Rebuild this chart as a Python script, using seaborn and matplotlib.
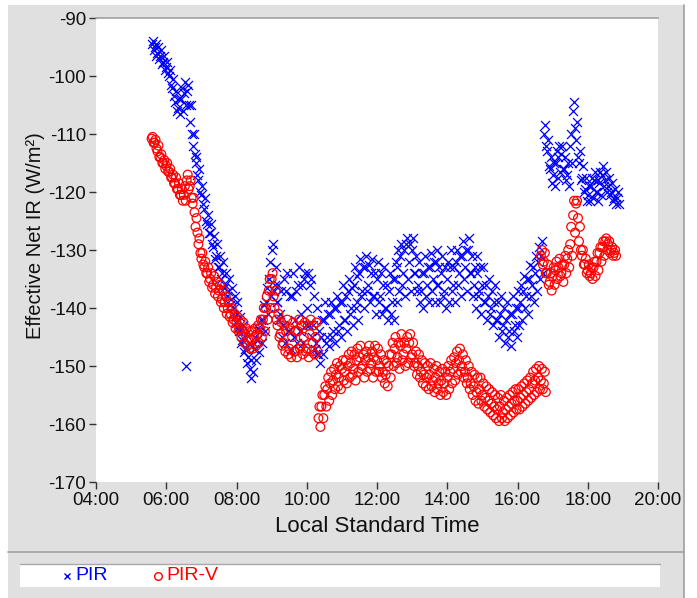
import numpy as np
import pandas as pd
import matplotlib
matplotlib.use("Agg")
import matplotlib.pyplot as plt
from matplotlib.patches import Rectangle
from matplotlib.lines import Line2D
from matplotlib.ticker import FuncFormatter
import seaborn as sns

# ---------------- data ----------------
# Each series is given at 5-minute slots as three readings of the scatter band:
# a middle reading, the upper edge and the lower edge of the cloud of markers.

# PIR (blue x), slots start at 05:35
pir_start = "05:35"
pir_mid = [
    -94.5, -95, -96, -96.5, -97.5,
    -98.5, -100, -102, -104.5, -105.5, -104, -103, -102.5, -108, -112, -115, -118,
    -120.5, -123, -125.5, -127, -129.5, -131, -133, -134, -136, -137, -138.5, -140,
    -141, -144, -145.5, -147, -148.5, -149, -147, -145.5, -144, -142, -139, -135,
    -130, -136, -139, -141, -143, -137, -144, -138, -142, -136, -141, -135,
    -140, -136, -143, -146, -148, -145, -142, -145, -141, -144, -140, -143,
    -139, -142, -137, -140, -136, -139, -134, -137, -133, -136, -134, -138,
    -135, -138, -136, -140, -137, -139, -135, -133, -131, -134, -129, -132,
    -130, -134, -136, -137, -134, -136, -133, -135, -132, -136, -134, -137,
    -135, -133, -136, -132, -134, -131, -133, -130, -134, -136, -134, -137,
    -136, -139, -138, -140, -139, -142, -141, -143, -142, -144, -141, -143,
    -140, -139, -137, -138, -135, -136, -134, -132, -131, -110, -113, -116,
    -117, -115, -114, -113.5, -116, -117, -112, -106, -111, -115, -117.5, -119.5,
    -120.5, -119, -118, -120, -118.5, -117, -118, -119, -120, -121, -121,
]
pir_upper = [
    -94, -94.5, -95, -95.5, -96.5,
    -97.5, -99, -100.5, -102.5, -104, -102, -101, -101.5, -105, -110, -114, -116,
    -119, -121, -124, -125.5, -127.5, -129, -131, -132, -134, -135, -136.5, -138,
    -139, -141.5, -143, -144.5, -146, -146.5, -145, -143.5, -142, -139.5, -136.5, -132,
    -129, -133, -136, -137, -135, -134, -138, -134, -137, -133, -136, -134,
    -134, -135, -138, -140, -144, -142, -139, -141, -139, -140, -138, -139,
    -136, -138, -135, -136.5, -133, -134.5, -131.5, -133, -131, -132.5, -131.5, -134,
    -132, -134, -133, -136, -134, -135, -132, -130, -129, -130, -128, -129,
    -128, -131, -132, -134, -131, -133, -130.5, -132, -130, -133, -131, -133,
    -132, -130, -133, -130, -131, -128.5, -130, -128, -131, -133, -131, -133,
    -133, -136, -135, -137, -136, -139, -138, -140, -139, -141, -138, -140,
    -137, -136, -134.5, -135, -132.5, -133, -131, -129.5, -128.5, -108.5, -111, -114,
    -115, -113, -112, -112, -114, -115, -110, -104.5, -108, -113, -115.5, -117.5,
    -119, -117.5, -116.5, -118, -116.5, -115.5, -116.5, -117.5, -118.5, -119.5, -120,
]
pir_lower = [
    -95.5, -96.5, -97, -98, -99,
    -99.5, -101.5, -103.5, -106, -106.5, -106, -105, -105, -110, -113.5, -117, -120,
    -122, -125, -127, -129, -131.5, -133, -135, -136.5, -138, -139.5, -141, -142.5,
    -143.5, -146, -147.5, -149.5, -150.5, -151, -149, -147.5, -146, -144, -141, -138,
    -137, -139, -142, -145, -146, -144, -147, -145, -146, -144, -146, -143,
    -143, -145, -147, -148, -149.5, -148, -146, -146.5, -145, -146, -144, -145,
    -142, -144, -141, -143, -140, -142, -138, -140, -137, -139, -138, -141,
    -139, -141, -140, -142, -141, -142, -139, -137, -136, -138, -135, -137,
    -134, -137, -139, -140, -138, -139, -137, -139, -136, -139, -138, -140,
    -139, -137, -139, -136, -138, -135, -137, -134, -138, -140, -138, -141,
    -139, -142, -141, -143, -142, -145, -144, -146, -145, -146.5, -144, -145,
    -143, -142, -140, -141, -138, -139, -137, -135, -134, -112, -115.5, -118.5,
    -119, -117.5, -116.5, -116, -118, -119, -115, -109, -114, -118, -120, -121.5,
    -121.5, -121, -120, -121.5, -120.5, -119, -120, -120.5, -121.5, -122, -122,
]
pir_outlier_times = ["06:33", "08:25"]
pir_outlier_values = [-150, -152]

# PIR-V (red o), first segment slots start at 05:35
pirv_start = "05:35"
pirv_mid = [
    -110.8, -111.5, -113, -114, -115,
    -115.5, -116.5, -117.5, -118.5, -119.5, -120.5, -120.5, -118, -119, -122, -126, -129,
    -131.5, -133, -134, -135, -136, -136.5, -137, -138.5, -139, -140, -141, -142,
    -142.5, -143.5, -144, -144.5, -145.5, -145.5, -145, -144.5, -143.5, -142, -140, -137,
    -135, -140, -143, -144.5, -146, -144, -147, -145, -147.5, -144, -146.5, -145,
    -147, -144.5, -146, -145, -159, -157, -155, -154, -153, -152.5, -151.5, -152,
    -150.5, -151, -150, -149.5, -150.5, -149, -148.5, -150, -149, -148.5, -149.5, -148.5,
    -149, -150, -151, -151.5, -150, -148, -147, -148.5, -146.5, -148, -147, -146,
    -148, -149.5, -150, -151, -151.5, -152, -151.5, -152.5, -152, -153, -152.5, -153,
    -152, -151, -150.5, -149.5, -149, -150, -151, -152, -153, -153.5, -154.5, -154,
    -155, -155.5, -156, -156.5, -157, -157.5, -157, -158, -157.5, -157, -156.5, -156,
    -156, -155.5, -155, -154.5, -154, -153, -152.5, -152, -152.5, -153,
]
pirv_upper = [
    -110.5, -111, -112, -113.5, -114.5,
    -115, -116, -117, -117.5, -118.5, -119.5, -119, -117, -118, -121, -124.5, -128,
    -130.5, -132, -133, -134, -134.5, -135.5, -136, -137, -138, -139, -140, -141,
    -141.5, -142, -142.5, -143.5, -144, -144, -143.5, -143, -142, -140, -138, -135,
    -134, -137, -141, -142.5, -143, -142, -143.5, -142.5, -144, -142, -143, -142.5,
    -143, -142, -143, -142.5, -157, -155, -153.5, -152, -151, -150.5, -149.5, -150,
    -149, -149, -148, -147.5, -148, -147, -146.5, -148, -147.5, -146.5, -147.5, -146.5,
    -147, -148, -149, -149.5, -148, -146, -145, -146, -144.5, -146, -145, -144.5,
    -146, -147.5, -148, -149, -149.5, -150, -149.5, -150.5, -150, -151, -150.5, -151,
    -150, -149, -148.5, -147.5, -147, -148, -149, -150, -151, -151.5, -152, -152,
    -153, -153.5, -154, -154.5, -155, -155.5, -155, -156, -155.5, -155, -154.5, -154,
    -154, -153.5, -153, -152.5, -152, -151, -150.5, -150, -150.5, -151,
]
pirv_lower = [
    -111.5, -112.5, -114, -115, -116,
    -116.5, -117.5, -118.5, -119.5, -120.5, -121.5, -121.5, -119.5, -121, -123.5, -127, -130.5,
    -132.5, -134, -135.5, -136.5, -137.5, -138, -139, -140, -141, -141.5, -142.5, -143.5,
    -144, -145, -146, -146.5, -147, -147, -146.5, -146, -145, -144, -142, -140,
    -138, -142, -145, -146.5, -147.5, -148, -148.5, -147.5, -148.5, -147, -148, -147.5,
    -148.5, -147.5, -148, -147.5, -160.5, -159, -157, -156, -155, -154, -153.5, -154,
    -152.5, -153, -152, -151.5, -152.5, -151, -150.5, -152, -151, -150.5, -152, -151,
    -151, -152, -153, -153.5, -152, -150, -149.5, -150.5, -149, -150, -149.5, -148.5,
    -150, -151.5, -152, -153, -153.5, -154, -153.5, -154.5, -154, -155, -154.5, -155,
    -154, -153, -152.5, -151.5, -151, -152, -153, -154, -155, -156, -156.5, -156,
    -157, -157.5, -158, -158.5, -159, -159.5, -159, -159.5, -159, -158.5, -158, -157.5,
    -157.5, -157, -156.5, -156, -155.5, -155, -154.5, -154, -154, -154.5,
]
# PIR-V evening segment, slots start at 16:40
pirv2_start = "16:40"
pirv2_mid = [
    -131, -132, -134, -135.5, -134.5, -133.5, -133, -134, -132.5, -131.5, -129, -124,
    -122, -128.5, -131, -132.5, -133.5, -134, -133, -132, -130.5, -129.5, -128.5, -129,
    -130, -130.5,
]
pirv2_upper = [
    -130, -130.5, -132.5, -134, -133, -132, -131.5, -132.5, -131, -130, -126, -121.5,
    -121.5, -126, -130, -131.5, -132.5, -133, -132, -130.5, -129.5, -128.5, -128, -128.5,
    -129.5, -130,
]
pirv2_lower = [
    -132.5, -134, -136, -137, -136, -135, -134.5, -135.5, -134, -133, -131, -127,
    -124.5, -130, -132.5, -134, -134.5, -135, -134.5, -133.5, -132, -131, -130, -130.5,
    -131, -131,
]

series_names = ["PIR", "PIR-V"]
series_colors = ["#0000ff", "#ff0000"]
x_tick_hours = [4, 6, 8, 10, 12, 14, 16, 18, 20]
y_ticks = [-170, -160, -150, -140, -130, -120, -110, -100, -90]
x_label = "Local Standard Time"
y_label = "Effective Net IR (W/m\u00b2)"

SLOT_H = 5 / 60          # slot width in hours
READ_OFFSETS_H = [0.0, 5 / 3 / 60, 10 / 3 / 60]   # mid, upper, lower readings inside a slot


def hhmm(s):
    h, m = s.split(":")
    return int(h) + int(m) / 60


def band_frame(start, mid, upper, lower):
    base = hhmm(start) + SLOT_H * np.arange(len(mid))
    times, vals = [], []
    for off, arr in zip(READ_OFFSETS_H, [mid, upper, lower]):
        times.append(base + off)
        vals.append(np.asarray(arr, dtype=float))
    return pd.DataFrame({"time": np.concatenate(times), "value": np.concatenate(vals)})


pir_df = pd.concat([
    band_frame(pir_start, pir_mid, pir_upper, pir_lower),
    pd.DataFrame({"time": [hhmm(t) for t in pir_outlier_times], "value": pir_outlier_values}),
], ignore_index=True)
pirv_df = pd.concat([
    band_frame(pirv_start, pirv_mid, pirv_upper, pirv_lower),
    band_frame(pirv2_start, pirv2_mid, pirv2_upper, pirv2_lower),
], ignore_index=True)

# ---------------- figure ----------------
sns.set_style("white")
plt.rcParams["font.family"] = ["Liberation Sans", "DejaVu Sans"]

W, H = 697, 598
fig = plt.figure(figsize=(W / 100, H / 100), dpi=100, facecolor="white")


def fx(px):
    return px / W


def fy(py):
    return 1 - py / H


# outer gray panel
fig.patches.append(Rectangle((fx(8), fy(598)), fx(684) - fx(8), fy(5) - fy(598),
                             transform=fig.transFigure, facecolor="#e0e0e0",
                             edgecolor="none", zorder=-10))
fig.add_artist(Line2D([fx(684), fx(684)], [fy(5), fy(598)], color="#a0a0a0", lw=1.2,
                      transform=fig.transFigure, zorder=-5))
fig.add_artist(Line2D([fx(8), fx(684)], [fy(552), fy(552)], color="#a0a0a0", lw=1.2,
                      transform=fig.transFigure, zorder=-5))
# legend box
fig.patches.append(Rectangle((fx(20), fy(587)), fx(660) - fx(20), fy(564) - fy(587),
                             transform=fig.transFigure, facecolor="white",
                             edgecolor="none", zorder=-6))
fig.add_artist(Line2D([fx(20), fx(660)], [fy(564), fy(564)], color="#a8a8a8", lw=1.0,
                      transform=fig.transFigure, zorder=-5))

ax = fig.add_axes([fx(96), fy(482), fx(658) - fx(96), fy(18) - fy(482)])
ax.set_zorder(1)
ax.set_facecolor("white")

sns.scatterplot(data=pir_df, x="time", y="value", marker="x", color=series_colors[0],
                s=42, linewidth=0.9, ax=ax, legend=False, zorder=2)
sns.scatterplot(data=pirv_df, x="time", y="value", marker="o", s=40,
                facecolors="none", edgecolor=series_colors[1], linewidth=0.9,
                ax=ax, legend=False, zorder=3)

ax.set_xlim(4, 20)
ax.set_ylim(-170, -90)
ax.set_xticks(x_tick_hours)
ax.xaxis.set_major_formatter(FuncFormatter(lambda v, p: f"{int(round(v)):02d}:00"))
ax.set_yticks(y_ticks)
ax.set_yticklabels([str(v) for v in y_ticks])

for side in ["left", "right", "bottom"]:
    ax.spines[side].set_visible(False)
ax.spines["top"].set_color("#a0a0a0")
ax.spines["top"].set_linewidth(1.2)

ax.tick_params(axis="both", direction="out", length=5, width=1, color="#333333",
               labelsize=13.5, labelcolor="#111111", pad=2,
               left=True, bottom=True)
ax.set_xlabel(x_label, fontsize=16, color="#111111", labelpad=5)
ax.set_ylabel(y_label, fontsize=14.5, color="#111111")
ax.yaxis.set_label_coords(-0.09, 0.532)

# legend (drawn in the bottom panel)
fig.add_artist(Line2D([fx(67)], [fy(576)], marker="x", linestyle="none",
                      color=series_colors[0], markersize=5, mew=1,
                      transform=fig.transFigure))
fig.text(fx(75), fy(576), series_names[0], color=series_colors[0], fontsize=14,
         ha="left", va="center")
fig.add_artist(Line2D([fx(158)], [fy(576)], marker="o", linestyle="none",
                      markerfacecolor="none", markeredgecolor=series_colors[1],
                      markersize=5.5, mew=1, transform=fig.transFigure))
fig.text(fx(166), fy(576), series_names[1], color=series_colors[1], fontsize=14,
         ha="left", va="center")

fig.savefig("out.png", dpi=100, facecolor=fig.get_facecolor())
